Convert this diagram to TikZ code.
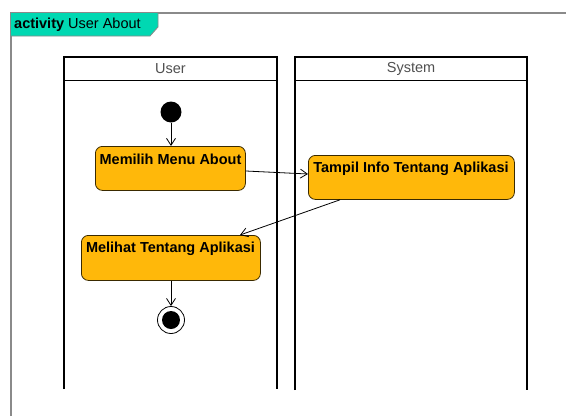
\documentclass[tikz,border=0pt]{standalone}
\usepackage{fontspec}
\setmainfont{Liberation Sans}
\usetikzlibrary{arrows.meta}
\definecolor{tabteal}{HTML}{00D8B2}
\definecolor{actfill}{HTML}{FFB80A}
\definecolor{actline}{HTML}{3A2A00}
\definecolor{framegrey}{HTML}{8A8A8A}
\definecolor{lanetext}{HTML}{505050}
\tikzset{
  lane/.style={line width=1.6pt, black},
  lanetitle/.style={font=\fontsize{14.5}{17}\selectfont, text=lanetext},
  action/.style={draw=actline, line width=0.8pt, fill=actfill, rounded corners=7pt, inner sep=0pt},
  acttext/.style={font=\bfseries\fontsize{14.5}{17}\selectfont, text=black, inner sep=0pt},
  flow/.style={line width=0.8pt, black, -{Straight Barb[length=7pt,width=9pt]}},
}
\begin{document}
\begin{tikzpicture}[x=1pt,y=-1pt]
\useasboundingbox (0,0) rectangle (566,416);
\fill[white] (0,0) rectangle (566,416);

% activity frame
\draw[framegrey, line width=1.2pt] (11,416) -- (11,13) -- (566,13);
\fill[tabteal] (11,13) -- (158,13) -- (158,27) -- (150,36) -- (11,36) -- cycle;
\draw[framegrey, line width=0.8pt] (158,13) -- (158,27) -- (150,36) -- (11,36);
\node[anchor=west, inner sep=0pt, font=\fontsize{14.5}{17}\selectfont] (title) at (14,24.5)
  {\textbf{activity} User About};

% swimlanes
\draw[lane] (64,389) -- (64,57) -- (277,57) -- (277,389);
\draw[lane] (64,80.5) -- (277,80.5);
\node[lanetitle] (userlane) at (170.5,68.5) {User};
\draw[lane] (295,390) -- (295,57) -- (527,57) -- (527,390);
\draw[lane] (295,80.5) -- (527,80.5);
\node[lanetitle] (syslane) at (411,68.5) {System};

% nodes
\node[circle, fill=black, minimum size=21pt, inner sep=0pt] (start) at (171,112) {};
\node[action, minimum width=150pt, minimum height=44pt, anchor=north west] (memilih) at (95,146) {};
\node[acttext] (memilihtxt) at (170.5,159.5) {Memilih Menu About};
\node[action, minimum width=206pt, minimum height=44pt, anchor=north west] (tampil) at (308,155) {};
\node[acttext] (tampiltxt) at (411,169) {Tampil Info Tentang Aplikasi};
\node[action, minimum width=179pt, minimum height=45pt, anchor=north west] (melihat) at (81,235) {};
\node[acttext] (melihattxt) at (170.5,249) {Melihat Tentang Aplikasi};
\node[circle, draw=black, line width=0.8pt, fill=white, minimum size=27pt, inner sep=0pt] (final) at (171,320) {};
\node[circle, fill=black, minimum size=18pt, inner sep=0pt] (finaldot) at (final) {};

% transitions
\draw[flow] (start.south) -- (start.south |- memilih.north);
\draw[flow] (memilih.east |- 0,171) -- (tampil.west |- 0,174);
\draw[flow] (tampil.south -| 340,0) -- (melihat.north -| 240,0);
\draw[flow] (melihat.south -| final) -- (final.north);
\end{tikzpicture}
\end{document}
